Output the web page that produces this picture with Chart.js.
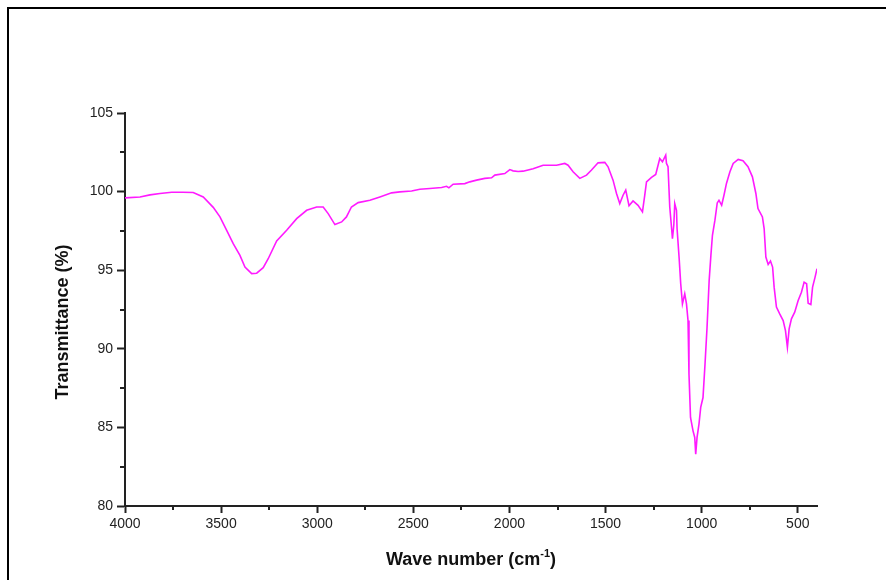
<!DOCTYPE html>
<html>
<head>
<meta charset="utf-8">
<script src="https://cdn.jsdelivr.net/npm/chart.js@4"></script>
<style>
  body { margin: 0; background: #fff; }
  canvas { display: block; }
</style>
</head>
<body>
<canvas id="myChart" width="886" height="580"></canvas>
<script>
// FTIR spectrum
const waveNumbers = [4000, 3922, 3870, 3818, 3757, 3700, 3645, 3593, 3541, 3506,
  3471, 3437, 3402, 3376, 3341, 3315, 3281, 3255, 3211, 3159,
  3107, 3055, 3003, 2969, 2943, 2908, 2873, 2848, 2822, 2787,
  2726, 2674, 2613, 2570, 2509, 2466, 2414, 2353, 2327, 2315,
  2293, 2232, 2206, 2171, 2128, 2093, 2076, 2024, 1998, 1981,
  1955, 1929, 1877, 1825, 1755, 1712, 1695, 1669, 1634, 1599,
  1573, 1539, 1504, 1487, 1461, 1443, 1426, 1409, 1395, 1378,
  1357, 1331, 1308, 1296, 1287, 1261, 1239, 1218, 1204, 1187,
  1183, 1175, 1166, 1157, 1152, 1145, 1140, 1131, 1128, 1117,
  1109, 1100, 1088, 1079, 1071, 1066, 1058, 1045, 1036, 1031,
  1024, 1014, 1005, 993, 982, 972, 961, 952, 944, 931,
  919, 910, 896, 884, 871, 853, 836, 810, 785, 759,
  736, 718, 707, 684, 675, 666, 654, 642, 631, 623,
  611, 594, 576, 564, 554, 545, 533, 516, 498, 481,
  467, 454, 446, 432, 423, 410, 400];

const transmittance = [99.6, 99.66, 99.79, 99.88, 99.96, 99.96, 99.94, 99.66, 99.0, 98.39,
  97.54, 96.69, 95.94, 95.2, 94.78, 94.81, 95.16, 95.73, 96.86, 97.54,
  98.28, 98.81, 99.02, 99.02, 98.6, 97.9, 98.07, 98.39, 99.02, 99.3,
  99.45, 99.66, 99.92, 99.98, 100.04, 100.15, 100.2, 100.26, 100.34, 100.24,
  100.47, 100.51, 100.62, 100.73, 100.84, 100.88, 101.05, 101.15, 101.4, 101.32,
  101.28, 101.3, 101.45, 101.68, 101.68, 101.79, 101.68, 101.26, 100.84, 101.05,
  101.37, 101.83, 101.86, 101.58, 100.73, 99.88, 99.24, 99.77, 100.09, 99.1,
  99.41, 99.13, 98.71, 99.77, 100.62, 100.9, 101.09, 102.11, 101.9, 102.32,
  101.79, 101.58, 99.02, 97.75, 97.0, 97.86, 99.24, 98.81, 97.65, 95.73,
  94.14, 92.86, 93.5, 92.86, 91.8, 88.4, 85.63, 84.78, 84.36, 83.3,
  84.36, 85.21, 86.27, 86.9, 89.14, 91.37, 94.35, 95.94, 97.22, 98.18,
  99.28, 99.45, 99.13, 99.77, 100.52, 101.26, 101.79, 102.05, 101.96, 101.58,
  100.94, 99.88, 98.92, 98.39, 97.65, 95.84, 95.37, 95.58, 95.2, 93.92,
  92.65, 92.22, 91.8, 91.16, 90.1, 91.27, 91.91, 92.33, 93.07, 93.6,
  94.24, 94.14, 92.9, 92.82, 93.92, 94.56, 95.1];

const xTicks = [4000, 3500, 3000, 2500, 2000, 1500, 1000, 500];
const xMinorTicks = [3750, 3250, 2750, 2250, 1750, 1250, 750];
const yTicks = [80, 85, 90, 95, 100, 105];
const yMinorTicks = [82.5, 87.5, 92.5, 97.5, 102.5];

const axisColor = '#222';
const labelFont = {family: 'Liberation Sans, Arial, sans-serif', size: 14};

// frame, minor ticks and the axis titles
const decorations = {
  id: 'decorations',
  afterDraw(chart) {
    const {ctx, chartArea: {left, top, right, bottom}, scales: {x, y}} = chart;
    ctx.save();
    // outer frame (only top and left visible)
    ctx.strokeStyle = '#000';
    ctx.lineWidth = 2;
    ctx.beginPath();
    ctx.moveTo(8, 580);
    ctx.lineTo(8, 8);
    ctx.lineTo(886, 8);
    ctx.stroke();

    // minor ticks
    ctx.strokeStyle = axisColor;
    ctx.lineWidth = 2;
    ctx.beginPath();
    xMinorTicks.forEach(v => {
      const px = Math.round(x.getPixelForValue(v));
      ctx.moveTo(px, bottom);
      ctx.lineTo(px, bottom + 4);
    });
    yMinorTicks.forEach(v => {
      const py = Math.round(y.getPixelForValue(v));
      ctx.moveTo(left, py);
      ctx.lineTo(left - 5, py);
    });
    ctx.stroke();

    // titles
    ctx.fillStyle = '#111';
    ctx.textBaseline = 'alphabetic';
    ctx.font = 'bold 18px "Liberation Sans", Arial, sans-serif';
    const main = 'Wave number (cm';
    const sup = '-1';
    const end = ')';
    const wMain = ctx.measureText(main).width;
    ctx.font = 'bold 11px "Liberation Sans", Arial, sans-serif';
    const wSup = ctx.measureText(sup).width;
    ctx.font = 'bold 18px "Liberation Sans", Arial, sans-serif';
    const wEnd = ctx.measureText(end).width;
    let tx = (left + right) / 2 - (wMain + wSup + wEnd) / 2;
    const ty = 565;
    ctx.textAlign = 'left';
    ctx.fillText(main, tx, ty);
    tx += wMain;
    ctx.font = 'bold 11px "Liberation Sans", Arial, sans-serif';
    ctx.fillText(sup, tx, ty - 8);
    tx += wSup;
    ctx.font = 'bold 18px "Liberation Sans", Arial, sans-serif';
    ctx.fillText(end, tx, ty);

    ctx.translate(63, 322);
    ctx.rotate(-Math.PI / 2);
    ctx.textAlign = 'center';
    ctx.textBaseline = 'middle';
    ctx.fillText('Transmittance (%)', 0, 0);
    ctx.restore();
  }
};

const ctx = document.getElementById('myChart').getContext('2d');
const chart = new Chart(ctx, {
  type: 'line',
  data: {
    datasets: [{
      label: 'FTIR',
      data: waveNumbers.map((w, i) => ({x: w, y: transmittance[i]})),
      borderColor: '#ff1aff',
      borderWidth: 1.6,
      pointRadius: 0,
      tension: 0,
      fill: false
    }]
  },
  options: {
    responsive: false,
    animation: false,
    layout: {padding: {left: 0, top: 113, right: 69, bottom: 0}},
    plugins: {
      legend: {display: false},
      tooltip: {enabled: false}
    },
    scales: {
      x: {
        type: 'linear',
        reverse: true,
        min: 400,
        max: 4000,
        afterFit(scale) { scale.height = 74; },
        afterBuildTicks(scale) { scale.ticks = xTicks.map(v => ({value: v})); },
        grid: {drawOnChartArea: false, drawTicks: true, tickLength: 7, tickColor: axisColor, tickWidth: 2},
        border: {display: true, color: axisColor, width: 2},
        ticks: {color: '#222', font: labelFont, padding: 3, maxRotation: 0, autoSkip: false,
          callback: v => String(v)}
      },
      y: {
        min: 80,
        max: 105,
        afterFit(scale) { scale.width = 125; },
        afterBuildTicks(scale) { scale.ticks = yTicks.map(v => ({value: v})); },
        grid: {drawOnChartArea: false, drawTicks: true, tickLength: 8, tickColor: axisColor, tickWidth: 2},
        border: {display: true, color: axisColor, width: 2},
        ticks: {color: '#222', font: labelFont, padding: 4, autoSkip: false,
          callback: v => String(v)}
      }
    }
  },
  plugins: [decorations]
});
</script>
</body>
</html>
